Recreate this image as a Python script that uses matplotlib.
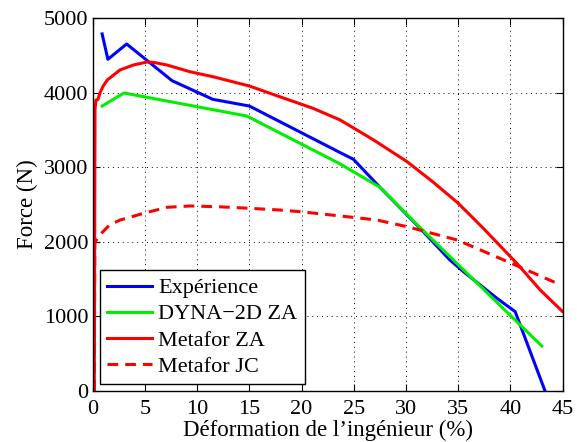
import matplotlib
matplotlib.use("Agg")
import matplotlib.pyplot as plt

# Expérience
exp_x = [0.9, 1.45, 3.25, 7.6, 11.5, 15.0, 23.7, 24.96, 27.5, 31.35, 34.2, 35.5, 38.7, 40.45, 43.3]
exp_y = [4790, 4450, 4655, 4162, 3912, 3822, 3196, 3107, 2731, 2180, 1755, 1598, 1241, 1061, 0]

# DYNA-2D ZA
dyna_x = [0.9, 3.0, 14.75, 23.7, 27.5, 31.35, 43.0]
dyna_y = [3822, 3997, 3688, 3044, 2731, 2190, 600]

# Metafor ZA
mza_x = [0.15, 0.22, 0.3, 0.5, 0.7, 1.0, 1.4, 2.6, 3.9, 5.2, 5.8, 7.1, 9.3, 11.5,
         15.0, 17.9, 19.9, 21.1, 23.7, 26.9, 30.1, 32.6, 35.0, 37.4, 40.6, 42.85, 45.0]
mza_y = [0, 3770, 3900, 3910, 4000, 4090, 4172, 4306, 4373, 4413, 4409, 4373, 4283,
         4216, 4091, 3947, 3850, 3791, 3634, 3366, 3075, 2800, 2516, 2180, 1711, 1352, 1061]

# Metafor JC
mjc_x = [0.15, 0.2, 0.6, 1.6, 2.6, 4.85, 7.1, 9.3, 12.0, 15.0, 17.9, 19.9, 23.7, 27.2,
         30.1, 34.9, 40.1, 44.45]
mjc_y = [0, 1990, 2080, 2224, 2290, 2381, 2462, 2480, 2470, 2449, 2426, 2403, 2346, 2292,
         2202, 2023, 1710, 1442]

xticks = [0, 5, 10, 15, 20, 25, 30, 35, 40, 45]
yticks = [0, 1000, 2000, 3000, 4000, 5000]

plt.rcParams['font.family'] = ['Liberation Serif', 'DejaVu Serif']
plt.rcParams['font.size'] = 16

fig = plt.figure(figsize=(5.77, 4.42), dpi=100)
ax = fig.add_axes([0.1607, 0.1161, 0.8145, 0.8425])

lw = 2.2
ax.plot(exp_x, exp_y, color='#0000ff', lw=lw, label='Expérience')
ax.plot(dyna_x, dyna_y, color='#00ee00', lw=lw, label='DYNA\u22122D ZA')
ax.plot(mza_x, mza_y, color='#ff0000', lw=lw, label='Metafor ZA')
ax.plot(mjc_x, mjc_y, color='#ff0000', lw=lw, ls=(0, (3.5, 2.3)), label='Metafor JC')

ax.set_xlim(0, 45)
ax.set_ylim(0, 5000)
ax.set_xticks(xticks)
ax.set_yticks(yticks)
ax.tick_params(direction='in', top=True, right=True, length=5, width=0.8)
ax.tick_params(axis='x', pad=6.5)
ax.tick_params(axis='y', pad=3)
ax.grid(True, color='black', ls=(0, (1, 4)), lw=0.7)
for s in ax.spines.values():
    s.set_linewidth(1.0)

ax.set_xlabel('Déformation de l\u2019ingénieur (%)', labelpad=1, fontsize=16.5)
ax.set_ylabel('Force (N)', labelpad=4, fontsize=16.5)

leg = ax.legend(loc='lower left', bbox_to_anchor=(0.0155, 0.018), borderaxespad=0,
                fancybox=False, edgecolor='black', framealpha=1, handlelength=2.0,
                handletextpad=0.3, labelspacing=0.25, borderpad=0.33)
leg.get_frame().set_linewidth(1.0)

fig.savefig('out.png', dpi=100)
